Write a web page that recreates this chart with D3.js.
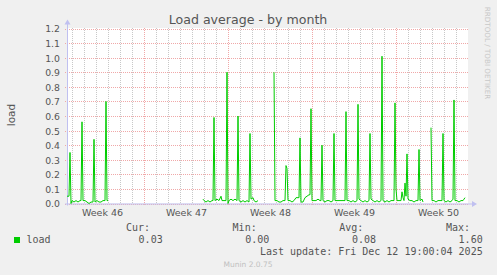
<!DOCTYPE html>
<html>
<head>
<meta charset="utf-8">
<script src="https://cdn.jsdelivr.net/npm/d3@7"></script>
<style>
body { margin: 0; background: #f0f0f0; }
svg { display: block; font-family: "DejaVu Sans", sans-serif; }
</style>
</head>
<body>
<div id="chart"></div>
<script>
// time window of the graph (UTC)
var startTime = Date.UTC(2025, 10, 10, 14);
var endTime = Date.UTC(2025, 11, 14, 0);

var yTicks = [0, 0.1, 0.2, 0.3, 0.4, 0.5, 0.6, 0.7, 0.8, 0.9, 1.0, 1.1, 1.2];

// samples: hours after startTime, load value (null = no data)
var sampleHours = [
    0, 4, 6, 8, 10, 14, 18, 22, 26, 28, 30, 32, 36, 40, 44, 48, 52, 54, 56, 60, 64, 68, 72, 76, 78, 80, 82, 84,
    272, 274, 278, 282, 286, 290, 292, 294, 296, 300, 304, 308, 310, 314, 318, 320, 322, 324, 328, 332, 336, 340,
    342, 344, 348, 352, 356, 360, 364, 366, 368, 372, 374, 378, 382, 384,
    414, 416, 420, 424, 428, 432, 436, 438, 440, 442, 446, 450, 454, 458, 462, 464, 466, 468, 472, 476, 480, 484,
    486, 488, 490, 494, 498, 502, 506, 508, 510, 512, 516, 520, 524, 528, 532, 534, 536, 540, 544, 548, 552, 556,
    558, 560, 564, 568, 572, 576, 580, 582, 584, 588, 592, 596, 600, 604, 606, 608, 612, 616, 620, 624, 628, 630,
    632, 636, 640, 644, 648, 652, 654, 656, 658, 660, 664, 668, 670, 672, 674, 676, 678, 680, 682, 686, 690, 694,
    698, 702, 704, 706, 710, 712, 714,
    728, 730, 734, 738, 742, 746, 750, 752, 754, 758, 762, 766, 770, 772, 774, 776, 780, 784, 788, 792, 794, 796
];
var sampleLoad = [
    0.05, 0.05, 0.35, 0.00, 0.02, 0.01, 0.02, 0.01, 0.02, 0.02, 0.56, 0.02, 0.02, 0.01, 0.00, 0.01, 0.01, 0.44,
    0.01, 0.02, 0.01, 0.01, 0.02, 0.02, 0.70, 0.02, 0.02, null,
    0.03, 0.02, 0.01, 0.02, 0.01, 0.02, 0.02, 0.59, 0.02, 0.03, 0.02, 0.05, 0.02, 0.02, 0.02, 0.90, 0.00, 0.02,
    0.03, 0.02, 0.03, 0.02, 0.60, 0.02, 0.01, 0.02, 0.01, 0.02, 0.01, 0.48, 0.03, 0.04, 0.02, 0.01, 0.02, null,
    0.90, 0.02, 0.02, 0.01, 0.01, 0.02, 0.02, 0.26, 0.24, 0.02, 0.02, 0.01, 0.02, 0.04, 0.04, 0.04, 0.45, 0.01,
    0.01, 0.04, 0.05, 0.06, 0.06, 0.65, 0.02, 0.02, 0.02, 0.03, 0.02, 0.02, 0.40, 0.02, 0.01, 0.02, 0.02, 0.01,
    0.02, 0.48, 0.02, 0.02, 0.02, 0.02, 0.02, 0.02, 0.63, 0.02, 0.02, 0.01, 0.02, 0.01, 0.02, 0.68, 0.03, 0.02,
    0.01, 0.02, 0.01, 0.02, 0.48, 0.03, 0.02, 0.01, 0.02, 0.01, 0.02, 1.01, 0.02, 0.01, 0.02, 0.01, 0.02, 0.02,
    0.02, 0.69, 0.10, 0.02, 0.02, 0.02, 0.08, 0.04, 0.02, 0.14, 0.05, 0.34, 0.03, 0.02, 0.02, 0.01, 0.02, 0.02,
    0.37, 0.02, 0.03, 0.01, null,
    0.52, 0.02, 0.02, 0.01, 0.02, 0.02, 0.02, 0.48, 0.02, 0.01, 0.02, 0.01, 0.02, 0.03, 0.71, 0.02, 0.02, 0.01,
    0.02, 0.02, 0.03, 0.04
];

var legendLabels = ['Cur:', 'Min:', 'Avg:', 'Max:'];
var legendValues = ['0.03', '0.00', '0.08', '1.60'];

var width = 497;
var height = 275;
var plotLeft = 67, plotRight = 468, plotTop = 28.5, plotBottom = 203.5;

var svg = d3.select('#chart').append('svg')
    .attr('width', width)
    .attr('height', height);

let xScale = d3.scaleUtc()
    .domain([new Date(startTime), new Date(endTime)])
    .range([plotLeft, plotRight]);
let yScale = d3.scaleLinear()
    .domain([0, 1.2])
    .range([plotBottom, plotTop]);

// plot background
svg.append('rect')
    .attr('x', plotLeft).attr('y', plotTop - 0.5)
    .attr('width', plotRight - plotLeft).attr('height', plotBottom - plotTop + 0.5)
    .attr('fill', '#fff');

// minor vertical grid (days)
let days = d3.utcDay.range(new Date(startTime), new Date(endTime)).filter(d => d.getUTCDay() != 1);
svg.append('g').selectAll('line').data(days).enter()
    .append('line')
    .attr('x1', d => Math.round(xScale(d)) + 0.5)
    .attr('x2', d => Math.round(xScale(d)) + 0.5)
    .attr('y1', plotTop - 0.5).attr('y2', plotBottom)
    .attr('stroke', '#c8c8c8')
    .attr('stroke-dasharray', '1,1');

// major vertical grid (weeks)
let mondays = d3.utcMonday.range(new Date(startTime), new Date(endTime));
svg.append('g').selectAll('line').data(mondays).enter()
    .append('line')
    .attr('x1', d => Math.round(xScale(d)) + 0.5)
    .attr('x2', d => Math.round(xScale(d)) + 0.5)
    .attr('y1', plotTop - 0.5).attr('y2', plotBottom + 2)
    .attr('stroke', '#f0a8a8')
    .attr('stroke-dasharray', '1,1');

// horizontal grid
svg.append('g').selectAll('line').data(yTicks).enter()
    .append('line')
    .attr('x1', plotLeft - 2).attr('x2', plotRight)
    .attr('y1', d => Math.round(yScale(d)) + 0.5)
    .attr('y2', d => Math.round(yScale(d)) + 0.5)
    .attr('stroke', '#f0a8a8')
    .attr('stroke-dasharray', '1,1');

// y axis labels
let yAxis = d3.axisLeft(yScale)
    .tickValues(yTicks)
    .tickFormat(d3.format('.1f'))
    .tickSize(0)
    .tickPadding(5);
let yg = svg.append('g')
    .attr('transform', 'translate(' + (plotLeft - 2) + ',0.5)')
    .call(yAxis);
yg.select('.domain').remove();
yg.selectAll('text')
    .attr('font-family', '"DejaVu Sans", sans-serif')
    .attr('font-size', '9.3px')
    .attr('fill', '#555');

// x axis labels (centre of each week)
let weekMids = mondays.concat([d3.utcMonday.offset(mondays[0], -1)])
    .map(d => d3.utcHour.offset(d, 84))
    .filter(d => d > startTime && d < endTime)
    .sort((a, b) => a - b);
let xAxis = d3.axisBottom(xScale)
    .tickValues(weekMids)
    .tickFormat(d => 'Week ' + d3.utcFormat('%V')(d))
    .tickSize(0)
    .tickPadding(6);
let xg = svg.append('g')
    .attr('transform', 'translate(0,' + plotBottom + ')')
    .call(xAxis);
xg.select('.domain').remove();
xg.selectAll('text')
    .attr('font-family', '"DejaVu Sans", sans-serif')
    .attr('font-size', '9.5px')
    .attr('fill', '#555');

// axes lines + arrows
svg.append('line')
    .attr('x1', plotLeft + 0.5).attr('x2', plotLeft + 0.5)
    .attr('y1', plotBottom + 2).attr('y2', plotTop - 6)
    .attr('stroke', '#c0c0f0');
svg.append('line')
    .attr('x1', plotLeft - 2).attr('x2', plotRight + 5)
    .attr('y1', plotBottom + 0.5).attr('y2', plotBottom + 0.5)
    .attr('stroke', '#c0c0f0');
svg.append('path')
    .attr('d', 'M' + (plotLeft - 2.5) + ',' + (plotTop - 4) + 'L' + (plotLeft + 3.5) + ',' + (plotTop - 4) + 'L' + (plotLeft + 0.5) + ',' + (plotTop - 9) + 'Z')
    .attr('fill', '#c0c0f0');
svg.append('path')
    .attr('d', 'M' + (plotRight + 4) + ',' + (plotBottom - 2.5) + 'L' + (plotRight + 4) + ',' + (plotBottom + 3.5) + 'L' + (plotRight + 9) + ',' + (plotBottom + 0.5) + 'Z')
    .attr('fill', '#c0c0f0');

// the load line
let points = sampleHours.map((h, i) => ({ t: new Date(startTime + h * 3600e3), v: sampleLoad[i] }));
let line = d3.line()
    .defined(d => d.v !== null)
    .x(d => xScale(d.t))
    .y(d => yScale(d.v));
svg.append('path')
    .datum(points)
    .attr('d', line)
    .attr('fill', 'none')
    .attr('stroke', '#00cc00')
    .attr('stroke-width', 1);

// title
svg.append('text')
    .attr('x', 248).attr('y', 23.5)
    .attr('text-anchor', 'middle')
    .attr('font-size', '12.6px')
    .attr('fill', '#555')
    .text('Load average - by month');

// y label
svg.append('text')
    .attr('transform', 'translate(14.5,115) rotate(-90)')
    .attr('text-anchor', 'middle')
    .attr('font-size', '10.5px')
    .attr('fill', '#555')
    .text('load');

// right side credit
svg.append('text')
    .attr('transform', 'translate(485,53) rotate(90)')
    .attr('text-anchor', 'middle')
    .attr('font-size', '7.2px')
    .attr('fill', '#c8c8c8')
    .text('RRDTOOL / TOBI OETIKER');

// legend
let mono = '"DejaVu Sans Mono", monospace';
let colRight = [150, 256.7, 363.3, 470];
svg.append('g').selectAll('text').data(legendLabels).enter()
    .append('text')
    .attr('x', (d, i) => colRight[i])
    .attr('y', 230.7)
    .attr('text-anchor', 'end')
    .attr('font-family', mono)
    .attr('font-size', '10px')
    .attr('fill', '#555')
    .text(d => d);
svg.append('g').selectAll('text').data(legendValues).enter()
    .append('text')
    .attr('x', (d, i) => colRight[i] + 12.7)
    .attr('y', 243)
    .attr('text-anchor', 'end')
    .attr('font-family', mono)
    .attr('font-size', '10px')
    .attr('fill', '#555')
    .text(d => d);
svg.append('rect')
    .attr('x', 14).attr('y', 237)
    .attr('width', 6).attr('height', 6)
    .attr('fill', '#00cc00');
svg.append('text')
    .attr('x', 26.5).attr('y', 243)
    .attr('font-family', mono)
    .attr('font-size', '10px')
    .attr('fill', '#555')
    .text('load');
svg.append('text')
    .attr('x', 482.7).attr('y', 254.5)
    .attr('text-anchor', 'end')
    .attr('font-family', mono)
    .attr('font-size', '10px')
    .attr('fill', '#555')
    .text('Last update: Fri Dec 12 19:00:04 2025');

svg.append('text')
    .attr('x', 248).attr('y', 266.5)
    .attr('text-anchor', 'middle')
    .attr('font-size', '7.5px')
    .attr('fill', '#c0c0c0')
    .text('Munin 2.0.75');
</script>
</body>
</html>
